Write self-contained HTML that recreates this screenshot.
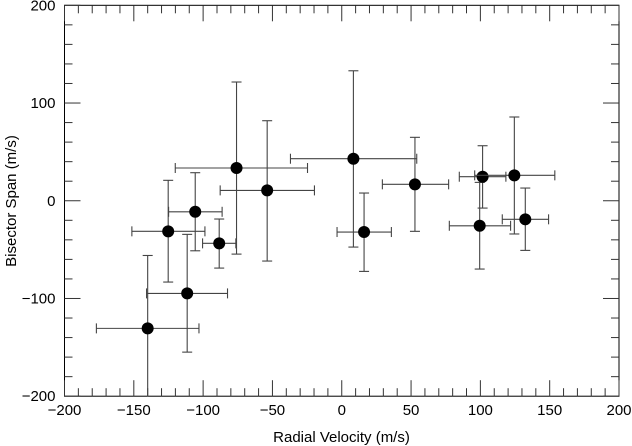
<!DOCTYPE html>
<html><head><meta charset="utf-8">
<style>
html,body{margin:0;padding:0;background:#fff;}
svg{display:block;font-family:"Liberation Sans",Arial,sans-serif;}
</style></head>
<body>
<svg id="chart" width="632" height="446" viewBox="0 0 632 446">
<g id="axes"></g>
<g id="marks"></g>
<text x="341.5" y="442" text-anchor="middle" font-size="15">Radial Velocity (m/s)</text>
<text x="0" y="0" transform="translate(16,201) rotate(-90)" text-anchor="middle" font-size="15">Bisector Span (m/s)</text>
</svg>
<script>
const rv =    [-140, -111.5, -125.2, -105.7, -88.4, -75.9, -53.8, 8.4, 16.1, 52.8, 99.5, 101.6, 124.5, 132.4];
const rvLo =  [-177, -140.8, -151.4, -124.9, -100.4, -120.1, -87.7, -37, -3.4, 29.3, 77.6, 84.8, 95.9, 115.8];
const rvHi =  [-103, -82.4, -98.7, -86.3, -76.4, -24.7, -19.7, 54.1, 35.8, 77.1, 121.8, 118.4, 153.7, 149.2];
const bs =    [-130.6, -94.8, -31.3, -11.3, -43.6, 33.5, 10.6, 43, -32, 16.8, -25.6, 24.6, 26, -19];
const bsLo =  [-210, -154.9, -83.2, -51.2, -68.9, -54.6, -61.7, -47.4, -72.3, -31.3, -69.9, -7.5, -34, -50.8];
const bsHi =  [-56, -34.4, 20.9, 28.7, -18.7, 121.5, 81.9, 133, 7.9, 64.9, 18.8, 56.3, 85.7, 13];
const xTicks = [-200, -150, -100, -50, 0, 50, 100, 150, 200];
const yTicks = [-200, -100, 0, 100, 200];

const L=64.5, R=619, T=5.3, B=396.2;
const X = v => L + (v + 200) / 400 * (R - L);
const Y = v => B - (v + 200) / 400 * (B - T);
const NS = 'http://www.w3.org/2000/svg';
const axes = document.getElementById('axes');
const marks = document.getElementById('marks');
function mk(tag, attrs, parent){
  const e = document.createElementNS(NS, tag);
  for (const k in attrs) e.setAttribute(k, attrs[k]);
  parent.appendChild(e); return e;
}
const frame = mk('rect', {x:L, y:T, width:R-L, height:B-T, fill:'none', stroke:'#000', 'stroke-width':1}, axes);


// x minor/major ticks
for (let v = -200; v <= 200; v += 10) {
  const major = v % 50 === 0;
  const len = major ? 16 : 8;
  const x = X(v);
  const t1 = mk('line', {x1:x, x2:x, y1:B, y2:B-len, stroke:'#333'}, axes);
  
  
  const t2 = mk('line', {x1:x, x2:x, y1:T, y2:T+len, stroke:'#333'}, axes);
  
  
}
for (let v = -200; v <= 200; v += 20) {
  const major = v % 100 === 0;
  const len = major ? 16 : 8;
  const y = Y(v);
  const t1 = mk('line', {x1:L, x2:L+len, y1:y, y2:y, stroke:'#333'}, axes);
  
  
  const t2 = mk('line', {x1:R, x2:R-len, y1:y, y2:y, stroke:'#333'}, axes);
  
  
}
xTicks.forEach(v => {
  const t = mk('text', {x:X(v), y:B+19, 'text-anchor':'middle', 'font-size':15}, axes);
  t.textContent = String(v).replace('-', '\u2212');
  
  
});
yTicks.forEach(v => {
  const t = mk('text', {x:L-9, y:Y(v)+5, 'text-anchor':'end', 'font-size':15}, axes);
  t.textContent = String(v).replace('-', '\u2212');
  
  
});
const c = 5;
rv.forEach((v, i) => {
  const g = mk('g', {}, marks);
  
  
  const x = X(v), y = Y(bs[i]);
  const lo = Math.max(bsLo[i], -200);
  const st = {stroke:'#444', 'stroke-width':1.1};
  const hx = mk('line', Object.assign({x1:X(rvLo[i]), x2:X(rvHi[i]), y1:y, y2:y}, st), g);
  
  
  mk('line', Object.assign({x1:X(rvLo[i]), x2:X(rvLo[i]), y1:y-c, y2:y+c}, st), g);
  mk('line', Object.assign({x1:X(rvHi[i]), x2:X(rvHi[i]), y1:y-c, y2:y+c}, st), g);
  const vy = mk('line', Object.assign({x1:x, x2:x, y1:Y(bsHi[i]), y2:Y(lo)}, st), g);
  
  
  mk('line', Object.assign({x1:x-c, x2:x+c, y1:Y(bsHi[i]), y2:Y(bsHi[i])}, st), g);
  if (bsLo[i] > -200) mk('line', Object.assign({x1:x-c, x2:x+c, y1:Y(lo), y2:Y(lo)}, st), g);
  const dot = mk('circle', {cx:x, cy:y, r:6, fill:'#000'}, g);
  
  
});
</script>
</body></html>
